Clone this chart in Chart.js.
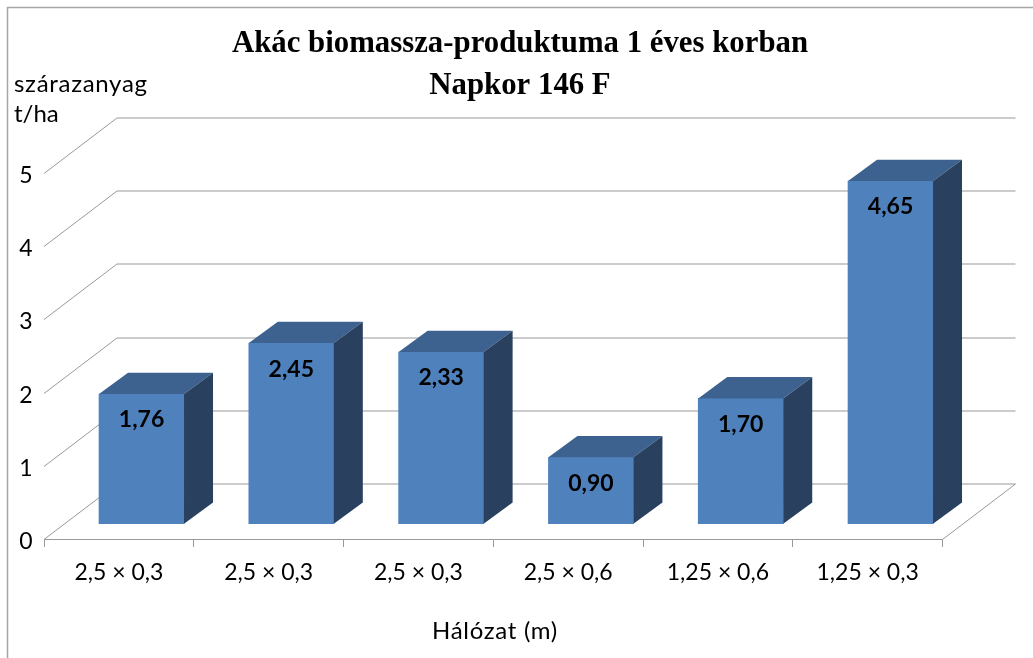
<!DOCTYPE html>
<html lang="hu">
<head>
<meta charset="utf-8">
<title>Akác biomassza-produktuma</title>
<style>
  html, body { margin: 0; padding: 0; background: #fff; }
  canvas { display: block; }
</style>
</head>
<body>
<canvas id="chart" width="1033" height="658"></canvas>
<script src="https://cdn.jsdelivr.net/npm/chart.js@4/dist/chart.umd.min.js"></script>
<script>
const categories = ['2,5 × 0,3', '2,5 × 0,3', '2,5 × 0,3', '2,5 × 0,6', '1,25 × 0,6', '1,25 × 0,3'];
const biomass = [1.76, 2.45, 2.33, 0.90, 1.70, 4.65];
const yTicks = [0, 1, 2, 3, 4, 5];
const titleLines = ['Akác biomassza-produktuma 1 éves korban', 'Napkor 146 F'];
const yTitleLines = ['szárazanyag', 't/ha'];
const xTitle = 'Hálózat (m)';

// 3D look: offsets of the back wall and of the bar depth
const WALL_DX = 73, WALL_DY = -55.5;
const BAR_DX = 29, BAR_DY = -21.3;
const GRID = '#999999';
const TEXT_FONT = 'Lato, sans-serif';

const fake3d = {
    id: 'fake3d',
    beforeDatasetsDraw(chart) {
        const { ctx, scales: { x, y } } = chart;
        ctx.save();
        ctx.strokeStyle = GRID;
        ctx.lineWidth = 1;
        yTicks.forEach(v => {
            const py = Math.round(y.getPixelForValue(v)) + 0.5;
            ctx.beginPath();
            ctx.moveTo(x.left, py);
            ctx.lineTo(x.left + WALL_DX, py + WALL_DY);
            ctx.lineTo(x.right + WALL_DX, py + WALL_DY);
            if (v === 0) ctx.lineTo(x.right, py);
            ctx.stroke();
        });
        ctx.restore();
    },
    afterDatasetsDraw(chart) {
        const { ctx } = chart;
        const bars = chart.getDatasetMeta(0).data;
        ctx.save();
        bars.forEach((bar, i) => {
            const half = bar.width / 2;
            const l = bar.x - half, r = bar.x + half, t = bar.y, b = bar.base;
            // top face
            ctx.fillStyle = '#3d6290';
            ctx.beginPath();
            ctx.moveTo(l, t);
            ctx.lineTo(l + BAR_DX, t + BAR_DY);
            ctx.lineTo(r + BAR_DX, t + BAR_DY);
            ctx.lineTo(r, t);
            ctx.closePath();
            ctx.fill();
            // side face
            ctx.fillStyle = '#29405f';
            ctx.beginPath();
            ctx.moveTo(r, t);
            ctx.lineTo(r + BAR_DX, t + BAR_DY);
            ctx.lineTo(r + BAR_DX, b + BAR_DY);
            ctx.lineTo(r, b);
            ctx.closePath();
            ctx.fill();
            // value label, decimal comma
            ctx.fillStyle = '#000';
            ctx.font = 'bold 23px ' + TEXT_FONT;
            ctx.textAlign = 'center';
            ctx.textBaseline = 'middle';
            ctx.fillText(biomass[i].toFixed(2).replace('.', ','), bar.x, t + 26);
        });
        ctx.restore();
    },
    afterDraw(chart) {
        const { ctx, width, height, scales: { y } } = chart;
        ctx.save();
        // chart frame, only left and top show in the picture
        ctx.strokeStyle = '#a6a6a6';
        ctx.lineWidth = 1.5;
        ctx.beginPath();
        ctx.moveTo(7.5, height);
        ctx.lineTo(7.5, 7.5);
        ctx.lineTo(width, 7.5);
        ctx.stroke();

        ctx.fillStyle = '#000';
        ctx.textBaseline = 'middle';
        ctx.textAlign = 'center';
        ctx.font = 'bold 30.8px "Liberation Serif", serif';
        titleLines.forEach((line, i) => ctx.fillText(line, 520, 44 + i * 42));

        ctx.font = '24px ' + TEXT_FONT;
        ctx.letterSpacing = '0.7px';
        ctx.fillText(xTitle, 495, 631);

        ctx.textAlign = 'left';
        yTitleLines.forEach((line, i) => {
            ctx.letterSpacing = i === 0 ? '0.7px' : '0px';
            ctx.fillText(line, 14, 84 + i * 30);
        });

        // value axis labels sit a little below their gridline start
        ctx.textAlign = 'center';
        ctx.letterSpacing = '0px';
        ctx.font = '23px ' + TEXT_FONT;
        yTicks.forEach(v => ctx.fillText(String(v), 26, y.getPixelForValue(v) + 2.5));
        ctx.restore();
    }
};

new Chart(document.getElementById('chart'), {
    type: 'bar',
    data: {
        labels: categories,
        datasets: [{
            data: biomass.map((v, i) => ({ x: i, y: v })),
            xAxisID: 'xBar',
            yAxisID: 'yBar',
            backgroundColor: '#4f81bd',
            borderWidth: 0,
            barThickness: 85,
            clip: false,
        }]
    },
    options: {
        responsive: false,
        animation: false,
        events: [],
        layout: { padding: { left: 8, right: 90.5, top: 173, bottom: 0 } },
        plugins: {
            legend: { display: false },
            tooltip: { enabled: false },
            title: { display: false },
        },
        scales: {
            x: {
                type: 'category',
                position: 'bottom',
                offset: true,
                grid: { drawOnChartArea: false, offset: true, tickLength: 8, color: GRID },
                border: { color: GRID },
                ticks: { color: '#000', font: { family: TEXT_FONT, size: 23 }, maxRotation: 0, padding: 12 },
                afterFit: s => { s.height = 119; },
            },
            y: {
                type: 'linear',
                position: 'left',
                min: 0,
                max: 5,
                grid: { display: false, drawTicks: false },
                border: { display: false },
                ticks: { display: false, stepSize: 1 },
                afterFit: s => { s.width = 36; },
            },
            // bars sit in the middle of the depth, so they get their own hidden scales
            xBar: { type: 'linear', axis: 'x', display: false, offset: false, min: -0.651, max: 5.347 },
            yBar: { type: 'linear', axis: 'y', display: false, min: -0.2076, max: 4.758 },
        }
    },
    plugins: [fake3d]
});
</script>
</body>
</html>
